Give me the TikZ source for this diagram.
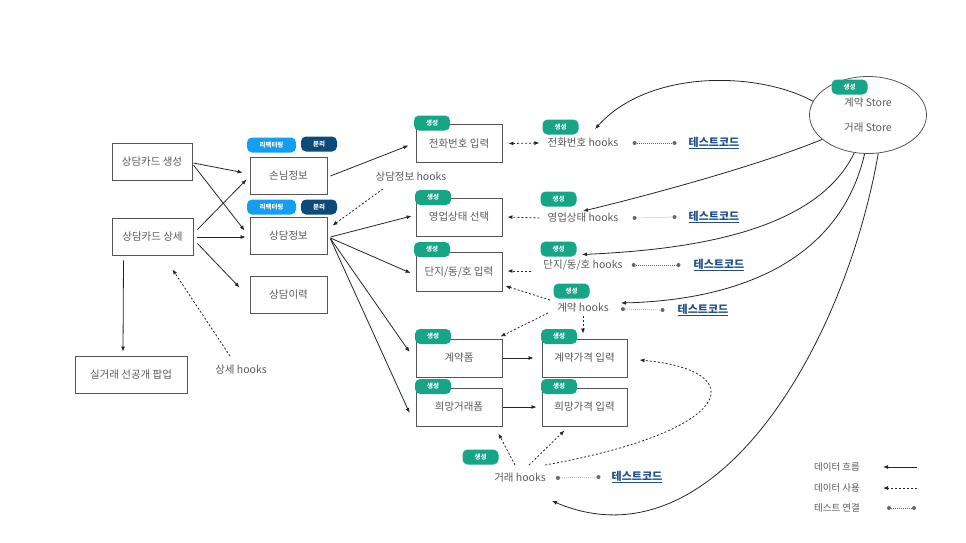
\documentclass[tikz,border=0pt]{standalone}
\usepackage{fontspec}
\setmainfont{Noto Sans CJK KR}
\usetikzlibrary{arrows.meta,shapes.geometric}
\definecolor{bc}{HTML}{555555}
\definecolor{tc}{HTML}{5A5A5A}
\definecolor{gc}{HTML}{17A588}
\definecolor{rc}{HTML}{129FF2}
\definecolor{nc}{HTML}{0D4A7C}
\definecolor{tcc}{HTML}{1F4E8C}
\definecolor{dotc}{HTML}{666666}
\tikzset{
  box/.style={draw=bc, line width=0.9pt, text=tc, font=\fontsize{10.5}{12}\selectfont, inner sep=0pt},
  lbl/.style={text=tc, font=\fontsize{10.5}{12}\selectfont, inner sep=1pt},
  badge/.style={rounded corners=5pt, text=white, font=\fontsize{6.5}{7}\bfseries\selectfont, minimum height=15pt, inner sep=0pt},
  gb/.style={badge, fill=gc, minimum width=36pt},
  rb/.style={badge, fill=rc, minimum width=49pt},
  nb/.style={badge, fill=nc, minimum width=36pt},
  flow/.style={draw=black!85, line width=0.8pt, -{Latex[length=5pt,width=4pt]}},
  duse/.style={draw=black!85, line width=0.8pt, dash pattern=on 2pt off 2pt, -{Latex[length=5pt,width=4pt]}},
  tlink/.style={draw=dotc, line width=0.5pt, dash pattern=on 0.8pt off 1.2pt, {Circle[length=4pt,width=4pt,fill=dotc,line width=0pt]}-{Circle[length=4pt,width=4pt,fill=dotc,line width=0pt]}},
  tcode/.style={text=tcc, font=\fontsize{11}{12}\bfseries\selectfont, inner sep=1pt},
  leg/.style={text=tc, font=\fontsize{9.5}{10}\selectfont, inner sep=1pt}
}
\begin{document}
\begin{tikzpicture}[x=1pt,y=-1pt]
\useasboundingbox (0,0) rectangle (966,542);

% left boxes
\node[box, minimum width=80pt, minimum height=37pt] (c1) at (152,161.5) {상담카드 생성};
\node[box, minimum width=81pt, minimum height=37pt] (c2) at (152.5,236.5) {상담카드 상세};
\node[box, minimum width=112pt, minimum height=37pt] (pop) at (131,374.5) {실거래 선공개 팝업};
\node[box, minimum width=77pt, minimum height=37pt] (g) at (288.5,175.5) {손님정보};
\node[box, minimum width=77pt, minimum height=37pt] (s) at (288.5,235.5) {상담정보};
\node[box, minimum width=77pt, minimum height=37pt] (h) at (288.5,294.5) {상담이력};

% middle boxes
\node[box, minimum width=86pt, minimum height=38pt] (tel) at (459,143.5) {전화번호 입력};
\node[box, minimum width=86pt, minimum height=38pt] (biz) at (459,217) {영업상태 선택};
\node[box, minimum width=86pt, minimum height=39pt] (apt) at (459,272) {단지/동/호 입력};
\node[box, minimum width=86pt, minimum height=38pt] (cf) at (459,358) {계약폼};
\node[box, minimum width=86pt, minimum height=38pt] (hf) at (459,407) {희망거래폼};
\node[box, minimum width=85pt, minimum height=38pt] (cp) at (584.5,358) {계약가격 입력};
\node[box, minimum width=85pt, minimum height=38pt] (hp) at (584.5,407) {희망가격 입력};

% hooks labels
\node[lbl] (telh) at (583,143) {전화번호 hooks};
\node[lbl] (bizh) at (583,218) {영업상태 hooks};
\node[lbl] (apth) at (583,265) {단지/동/호 hooks};
\node[lbl] (ch) at (583,308) {계약 hooks};
\node[lbl] (th) at (520,478) {거래 hooks};
\node[lbl] (sh) at (411,177) {상담정보 hooks};
\node[lbl] (dh) at (241,370) {상세 hooks};

% test code labels
\node[tcode] (t1) at (714,143) {\underline{테스트코드}};
\node[tcode] (t2) at (714,217) {\underline{테스트코드}};
\node[tcode] (t3) at (719,265) {\underline{테스트코드}};
\node[tcode] (t4) at (703,310) {\underline{테스트코드}};
\node[tcode] (t5) at (637,477) {\underline{테스트코드}};

% store
\node[draw=bc, line width=0.8pt, ellipse, minimum width=117pt, minimum height=77pt, text=tc, align=center, font=\fontsize{10.5}{25}\selectfont] (st) at (868,115) {계약 Store\\거래 Store};

% badges
\node[rb] (r1) at (271.5,145) {리팩터링};
\node[nb] (n1) at (319,144) {분리};
\node[rb] (r2) at (271.5,207) {리팩터링};
\node[nb] (n2) at (319,207) {분리};
\node[gb] (b1) at (432,123) {생성};
\node[gb] (b2) at (560.5,127) {생성};
\node[gb] (b3) at (433,197.5) {생성};
\node[gb] (b4) at (558.5,199) {생성};
\node[gb] (b5) at (432,249.5) {생성};
\node[gb] (b6) at (558.5,249) {생성};
\node[gb] (b7) at (571.5,291) {생성};
\node[gb] (b8) at (433,336.5) {생성};
\node[gb] (b9) at (559,336.5) {생성};
\node[gb] (b10) at (433,386.5) {생성};
\node[gb] (b11) at (559,386.5) {생성};
\node[gb] (b12) at (480.5,457) {생성};
\node[gb] (b13) at (849.5,87) {생성};

% data flow (solid)
\draw[flow] ([shift={(1,1.5)}]c1.east) -- ([shift={(-7,-3)}]g.west);
\draw[flow] ([shift={(1,3.5)}]c1.east) -- ([shift={(-5,-5)}]s.west);
\draw[flow] ([shift={(4,-7)}]c2.east) -- ([shift={(-3,4)}]g.west);
\draw[flow] ([shift={(4,0.5)}]c2.east) -- ([shift={(-4,1.5)}]s.west);
\draw[flow] ([shift={(4,7)}]c2.east) -- ([shift={(-10,-7)}]h.west);
\draw[flow] ([shift={(-29,5)}]c2.south) -- ([shift={(-8,-4)}]pop.north);
\draw[flow] ([shift={(3,0.5)}]g.east) -- ([shift={(-7,2)}]tel.west);
\draw[flow] ([shift={(3,1.5)}]s.east) -- ([shift={(-4,-1)}]biz.west);
\draw[flow] ([shift={(3,2.5)}]s.east) -- ([shift={(-5,1)}]apt.west);
\draw[flow] ([shift={(3,3)}]s.east) -- ([shift={(-6,-6)}]cf.west);
\draw[flow] ([shift={(3,3.5)}]s.east) -- ([shift={(-6,6)}]hf.west);
\draw[flow] ([shift={(1,0)}]cf.east) -- ([shift={(-8,0)}]cp.west);
\draw[flow] ([shift={(1,0)}]hf.east) -- ([shift={(-5,0)}]hp.west);

% store flows (solid curves)
\draw[flow] (st.166) .. controls (760,72) and (650,68) .. ([shift={(12,-8)}]telh.north);
\draw[flow] (st.208) .. controls (760,165) and (650,195) .. ([shift={(0,-1)}]bizh.north);
\draw[flow] (st.250) .. controls (815,235) and (680,250) .. ([shift={(-1,-4)}]apth.north);
\draw[flow] (st.265) .. controls (840,260) and (740,300) .. ([shift={(11,-5)}]ch.east);
\draw[flow] (st.285) .. controls (845,345) and (715,570) .. ([shift={(32,17)}]th.south);

% data use (dashed)
\draw[duse, {Latex[length=5pt,width=4pt]}-{Latex[length=5pt,width=4pt]}] ([shift={(6,0)}]tel.east) -- ([shift={(-7,0)}]telh.west);
\draw[duse] ([shift={(-7,0)}]bizh.west) -- ([shift={(5,0)}]biz.east);
\draw[duse] ([shift={(-11,6)}]apth.west) -- ([shift={(5,-1)}]apt.east);
\draw[duse] ([shift={(-6,-8)}]ch.west) -- ([shift={(3,-6)}]apt.south east);
\draw[duse] ([shift={(-8,5)}]ch.west) -- ([shift={(-2,-2)}]cf.north east);
\draw[duse] ([shift={(0,2)}]ch.south) -- ([shift={(-1.5,-5)}]cp.north);
\draw[duse] ([shift={(-5,-7)}]th.north) -- ([shift={(-4,7)}]hf.south east);
\draw[duse] ([shift={(9,-7)}]th.north) -- ([shift={(-20,4)}]hp.south);
\draw[duse] ([shift={(25,-7)}]th.north) .. controls (740,430) and (750,370) .. ([shift={(12,2)}]cp.east);
\draw[duse] ([shift={(-28,6)}]sh.south) -- ([shift={(5,9)}]s.north east);
\draw[duse] ([shift={(-11,-8)}]dh.north) -- ([shift={(20,14)}]c2.south);

% test links
\draw[tlink] ([shift={(13,0)}]telh.east) -- ([shift={(-11,0)}]t1.west);
\draw[tlink] ([shift={(13,0)}]bizh.east) -- ([shift={(-11,0)}]t2.west);
\draw[tlink] ([shift={(8,0)}]apth.east) -- ([shift={(-12,0)}]t3.west);
\draw[tlink] ([shift={(11,1)}]ch.east) -- ([shift={(-12,0)}]t4.west);
\draw[tlink] ([shift={(9,0)}]th.east) -- ([shift={(-10,0)}]t5.west);

% legend
\node[leg] (l1) at (837,467) {데이터 흐름};
\node[leg] (l2) at (837,488) {데이터 사용};
\node[leg] (l3) at (837,508) {테스트 연결};
\coordinate (l1a) at (917,467);
\coordinate (l1b) at (883,467);
\coordinate (l2a) at (917,488);
\coordinate (l2b) at (883,488);
\coordinate (l3a) at (887,508);
\coordinate (l3b) at (916,508);
\draw[flow] (l1a) -- (l1b);
\draw[duse] (l2a) -- (l2b);
\draw[tlink] (l3a) -- (l3b);
\end{tikzpicture}
\end{document}
